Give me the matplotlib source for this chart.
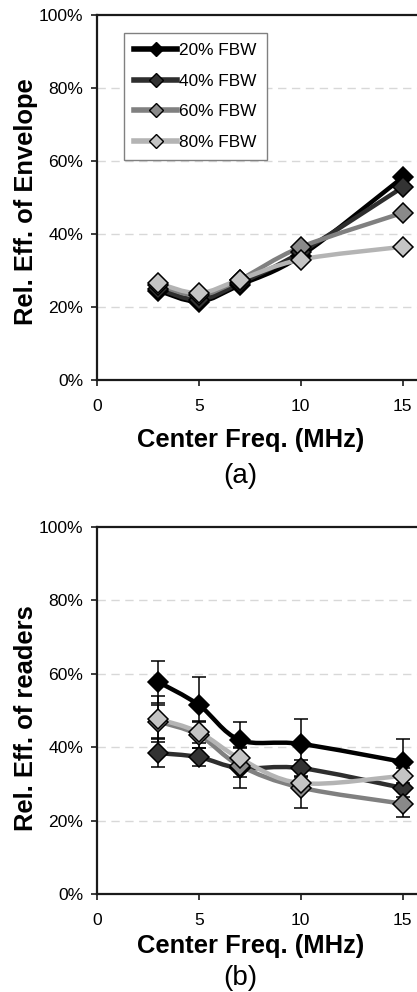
import numpy as np
import matplotlib.pyplot as plt
from matplotlib.path import Path
from matplotlib.patches import PathPatch
from matplotlib.lines import Line2D
from matplotlib.ticker import FuncFormatter

plt.rcParams['font.family'] = ['Liberation Sans', 'DejaVu Sans']

freq = [3, 5, 7, 10, 15]
labels = ['20% FBW', '40% FBW', '60% FBW', '80% FBW']

# relative efficiency of the envelope (%)
env_20 = [24.5, 21.5, 26.0, 34.0, 55.5]
env_40 = [25.0, 22.0, 26.5, 35.0, 52.8]
env_60 = [26.0, 23.2, 27.5, 36.4, 45.8]
env_80 = [26.5, 23.8, 27.5, 33.0, 36.5]

# relative efficiency of readers (%) with error bars
rdr_20 = [57.8, 51.5, 42.0, 40.9, 36.0]
rdr_40 = [38.4, 37.3, 34.3, 34.3, 28.9]
rdr_60 = [47.0, 43.3, 35.0, 29.0, 24.6]
rdr_80 = [47.7, 44.1, 37.0, 30.2, 32.2]
err_20 = [5.7, 7.6, 4.9, 6.8, 6.2]
err_40 = [3.8, 2.5, 5.4, 2.2, 2.5]
err_60 = [4.5, 3.5, 3.0, 5.6, 3.6]
err_80 = [6.3, 3.0, 3.0, 1.7, 2.0]

line_cols = ['#000000', '#2e2e2e', '#808080', '#b4b4b4']
face_cols = ['#000000', '#333333', '#8a8a8a', '#c4c4c4']


def smooth_path(xs, ys):
    # bezier curve through the points, like a "smoothed line" chart
    pts = np.column_stack([xs, ys]).astype(float)
    n = len(pts)
    verts = [pts[0]]
    codes = [Path.MOVETO]
    for i in range(n - 1):
        p0 = pts[i - 1] if i > 0 else pts[i]
        p1 = pts[i]
        p2 = pts[i + 1]
        p3 = pts[i + 2] if i + 2 < n else pts[i + 1]
        verts += [p1 + (p2 - p0) / 6, p2 - (p3 - p1) / 6, p2]
        codes += [Path.CURVE4] * 3
    return Path(verts, codes)


def setup_axes(ax):
    ax.set_xlim(0, 16)
    ax.set_ylim(0, 100)
    ax.set_xticks([0, 5, 10, 15])
    ax.set_yticks([0, 20, 40, 60, 80, 100])
    ax.yaxis.set_major_formatter(FuncFormatter(lambda v, p: '%d%%' % v))
    for g in [20, 40, 60, 80]:
        ax.axhline(g, color='#d8d8d8', lw=1.0, ls=(0, (6, 4)), zorder=0)
    for s in ['left', 'bottom', 'top']:
        ax.spines[s].set_linewidth(1.6)
        ax.spines[s].set_color('#1a1a1a')
    ax.spines['right'].set_visible(False)
    ax.tick_params(direction='out', length=4, width=1.2, labelsize=12.6,
                   color='#1a1a1a')
    ax.tick_params(axis='x', pad=10)
    ax.tick_params(axis='y', pad=6)


def draw_series(ax, ys, k, yerr=None):
    patch = PathPatch(smooth_path(freq, ys), fill=False, lw=3.2,
                      edgecolor=line_cols[k], capstyle='round',
                      joinstyle='round', zorder=2 + k * 0.1)
    ax.add_patch(patch)
    if yerr is not None:
        ax.errorbar(freq, ys, yerr=yerr, fmt='none', ecolor='black',
                    elinewidth=1.1, capsize=5, capthick=1.1, zorder=2.5)
    ax.plot(freq, ys, ls='none', marker='D', ms=10, mfc=face_cols[k],
            mec='black', mew=1.1, zorder=3 + k * 0.1)


W, H = 417, 992
fig = plt.figure(figsize=(W / 100, H / 100), dpi=100)

ax_a = fig.add_axes([97 / W, 1 - 380 / H, 326 / W, 365 / H])
ax_b = fig.add_axes([97 / W, 1 - 894 / H, 326 / W, 367 / H])
for ax in (ax_a, ax_b):
    setup_axes(ax)

for k, ys in enumerate([env_20, env_40, env_60, env_80]):
    draw_series(ax_a, ys, k)

rdr = [rdr_20, rdr_40, rdr_60, rdr_80]
errs = [err_20, err_40, err_60, err_80]
for k in range(4):
    draw_series(ax_b, rdr[k], k, errs[k])

handles = [Line2D([], [], color=line_cols[k], lw=4, marker='D', ms=7,
                  mfc=face_cols[k], mec='black', mew=1.0)
           for k in range(4)]
leg = ax_a.legend(handles, labels, loc='upper left',
                  bbox_to_anchor=(0.083, 0.951), borderaxespad=0,
                  fontsize=12.4, handlelength=2.5, handletextpad=0.1,
                  labelspacing=0.9, borderpad=0.6, fancybox=False,
                  framealpha=1)
leg.get_frame().set_edgecolor('#808080')
leg.get_frame().set_linewidth(1.0)

# axis titles and panel tags
for yb, yc, ylab, tag, yt in [(447, 202, 'Rel. Eff. of Envelope', '(a)', 483),
                              (953, 718, 'Rel. Eff. of readers', '(b)', 985)]:
    fig.text(251 / W, 1 - yb / H, 'Center Freq. (MHz)', ha='center',
             va='baseline', fontsize=18.4, fontweight='bold')
    fig.text(240 / W, 1 - yt / H, tag, ha='center', va='baseline',
             fontsize=20)
    fig.text(26 / W, 1 - yc / H, ylab, ha='center', va='center',
             rotation=90, fontsize=18.4, fontweight='bold')

fig.savefig('out.png', dpi=100)
